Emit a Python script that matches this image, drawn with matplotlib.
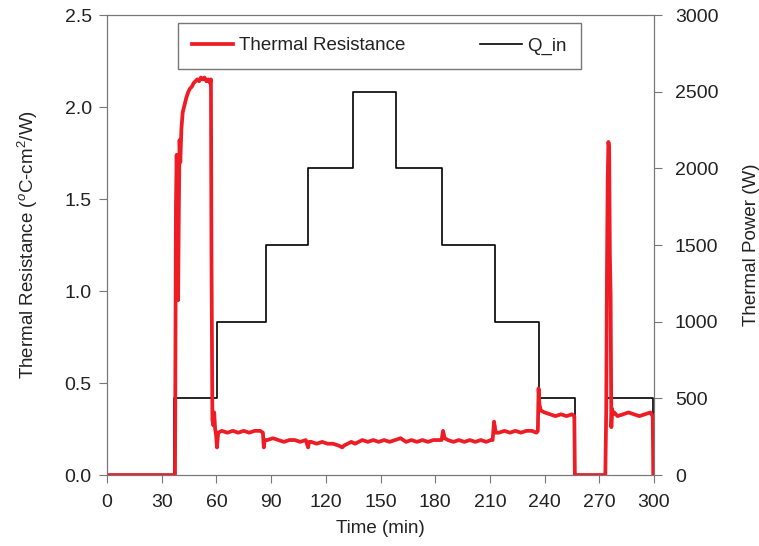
import matplotlib.pyplot as plt

plt.rcParams["font.family"] = ["Liberation Sans", "DejaVu Sans"]
plt.rcParams["mathtext.fontset"] = "custom"
plt.rcParams["mathtext.rm"] = "Liberation Sans"
plt.rcParams["mathtext.it"] = "Liberation Sans:italic"

# Thermal resistance trace, one piece per power step
t_warm = [0, 37.3, 37.5, 37.8, 38.2, 38.6, 39.0, 39.4, 39.8, 40.2, 40.8, 41.5, 42.5, 43.5,
          44.5, 45.5, 46.5, 47.5, 48.5, 49.5, 50.5, 51.5, 52.5, 53.5, 54.5, 55.5, 56.5, 57.0]
r_warm = [0, 0, 0.62, 1.45, 1.74, 1.55, 0.95, 1.45, 1.82, 1.70, 1.88, 1.97, 2.01, 2.05,
          2.08, 2.10, 2.11, 2.13, 2.14, 2.15, 2.14, 2.16, 2.15, 2.16, 2.14, 2.15, 2.13, 2.15]

t_1000a = [57.3, 57.8, 58.3, 58.8, 59.3, 59.8, 60.3, 61.0, 63, 66, 69, 72, 75, 78, 81, 84, 85.5]
r_1000a = [1.20, 0.30, 0.27, 0.34, 0.25, 0.22, 0.15, 0.23, 0.24, 0.23, 0.24, 0.23, 0.24,
           0.23, 0.24, 0.24, 0.23]

t_1500a = [86.0, 86.5, 88, 91, 94, 97, 100, 103, 106, 109]
r_1500a = [0.15, 0.19, 0.19, 0.20, 0.19, 0.18, 0.19, 0.19, 0.18, 0.19]

t_peak = [110.3, 110.8, 112, 115, 118, 121, 124, 127, 129, 130, 132, 134, 136, 138, 140,
          143, 146, 149, 152, 155, 158, 161, 164, 167, 170, 173, 176, 179, 182]
r_peak = [0.15, 0.18, 0.18, 0.17, 0.18, 0.17, 0.17, 0.16, 0.15, 0.16, 0.17, 0.18, 0.17,
          0.18, 0.19, 0.18, 0.19, 0.18, 0.19, 0.18, 0.19, 0.20, 0.18, 0.19, 0.18, 0.19,
          0.18, 0.19, 0.19]

t_1500b = [183.5, 184.3, 185.2, 187, 190, 193, 196, 199, 202, 205, 208, 210.5]
r_1500b = [0.19, 0.24, 0.20, 0.19, 0.18, 0.19, 0.18, 0.19, 0.18, 0.19, 0.18, 0.19]

t_1000b = [211.5, 212.3, 213.2, 215, 218, 221, 224, 227, 230, 233, 235.5]
r_1000b = [0.19, 0.29, 0.23, 0.23, 0.24, 0.23, 0.24, 0.23, 0.24, 0.24, 0.23]

t_500a = [236.3, 236.7, 237.2, 238, 240, 243, 246, 249, 252, 255, 256.3, 256.6]
r_500a = [0.24, 0.47, 0.38, 0.35, 0.34, 0.33, 0.32, 0.33, 0.32, 0.33, 0.32, 0]

t_500b = [273.3, 273.8, 274.2, 274.6, 275.0, 275.4, 275.8, 276.2, 276.6, 277.0, 277.5,
          278.2, 280, 283, 286, 289, 292, 295, 298, 299.3, 299.6, 300]
r_500b = [0, 0.35, 1.10, 1.60, 1.81, 1.78, 1.20, 0.98, 0.26, 0.36, 0.33, 0.34, 0.32,
          0.33, 0.34, 0.33, 0.32, 0.33, 0.34, 0.32, 0, 0]

t_res = t_warm + t_1000a + t_1500a + t_peak + t_1500b + t_1000b + t_500a + t_500b
r_val = r_warm + r_1000a + r_1500a + r_peak + r_1500b + r_1000b + r_500a + r_500b

# Heat input steps (start time of each step, power level)
t_q = [0, 36.8, 60.5, 87, 110.5, 135, 158.5, 184, 213, 237, 256.5, 273.5, 299.5, 300]
q_in = [0, 500, 1000, 1500, 2000, 2500, 2000, 1500, 1000, 500, 0, 500, 0, 0]

fig = plt.figure(figsize=(7.59, 5.46), dpi=100)
ax = fig.add_axes([107 / 759, 1 - 475 / 546, (654 - 107) / 759, 460 / 546])
ax2 = ax.twinx()

l2, = ax2.step(t_q, q_in, where="post", color="black", linewidth=1.2, label="Q_in")
l1, = ax.plot(t_res, r_val, color="#ee1c25", linewidth=2.7, label="Thermal Resistance")
ax.set_zorder(ax2.get_zorder() + 1)
ax.patch.set_visible(False)

ax.set_xlim(0, 300)
ax.set_ylim(0, 2.5)
ax2.set_ylim(0, 3000)
ax.set_xticks(range(0, 301, 30))
ax.set_yticks([0, 0.5, 1.0, 1.5, 2.0, 2.5])
ax.set_yticklabels(["0.0", "0.5", "1.0", "1.5", "2.0", "2.5"])
ax2.set_yticks(range(0, 3001, 500))

txt = "#222222"
for a in (ax, ax2):
    a.tick_params(labelsize=14, colors=txt, direction="out", length=6, color="#777777", pad=5)
    for s in a.spines.values():
        s.set_color("#777777")
ax2.tick_params(pad=9)
ax.tick_params(axis="x", pad=8)

ax.set_xlabel("Time (min)", fontsize=13.5, color=txt, labelpad=6)
ax.set_ylabel(r"Thermal Resistance ($^o$C-cm$^2$/W)", fontsize=13.5, color=txt, labelpad=18)
ax2.set_ylabel("Thermal Power (W)", fontsize=13.5, color=txt, labelpad=18)

leg = ax.legend([l1, l2], ["Thermal Resistance", "Q_in"], loc="upper center",
                bbox_to_anchor=(0.498, 0.982), ncol=2, fontsize=13.5, frameon=True,
                fancybox=False, edgecolor="#555555", columnspacing=4.0,
                handlelength=2.2, borderpad=0.75, borderaxespad=0, handletextpad=0.3)
leg.get_frame().set_linewidth(1.0)
for t in leg.get_texts():
    t.set_color(txt)

fig.savefig("out.png", dpi=100)
